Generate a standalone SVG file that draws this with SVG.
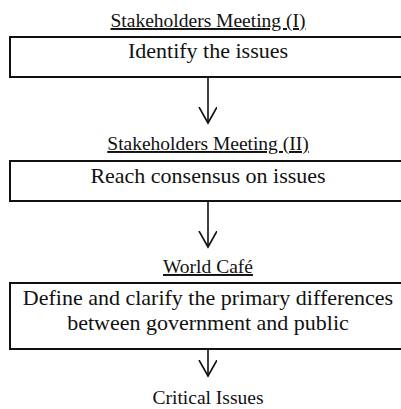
<svg xmlns="http://www.w3.org/2000/svg" width="401" height="409" viewBox="0 0 401 409">
<style>
  .bg { fill: #ffffff; }
  .box { fill: #ffffff; stroke: #111111; stroke-width: 2; }
  .lbl { font-family: "Liberation Serif", "Times New Roman", serif; font-size: 19.5px; fill: #111111; text-anchor: middle; text-decoration: underline; }
  .txt { font-family: "Liberation Serif", "Times New Roman", serif; font-size: 22px; fill: #111111; text-anchor: middle; }
  .plain { font-family: "Liberation Serif", "Times New Roman", serif; font-size: 19.5px; fill: #111111; text-anchor: middle; }
  .conn { stroke: #111111; stroke-width: 1.6; fill: none; }
</style>
<defs>
  <marker id="vhead" markerWidth="20" markerHeight="20" refX="16" refY="9" orient="auto" markerUnits="userSpaceOnUse">
    <path d="M 0 0 L 16 9 L 0 18" fill="none" stroke="#111111" stroke-width="1.6"/>
  </marker>
</defs>
<rect class="bg" x="0" y="0" width="401" height="409"/>
<g id="label1"><text class="lbl" x="208" y="27">Stakeholders Meeting (I)</text></g>
<g id="node1">
  <rect class="box" x="10" y="37" width="400" height="40"/>
  <text class="txt" x="208" y="58">Identify the issues</text>
</g>
<g id="label2"><text class="lbl" x="208" y="150">Stakeholders Meeting (II)</text></g>
<g id="node2">
  <rect class="box" x="10" y="161" width="400" height="40"/>
  <text class="txt" x="208" y="183">Reach consensus on issues</text>
</g>
<g id="label3"><text class="lbl" x="208" y="273">World Café</text></g>
<g id="node3">
  <rect class="box" x="10" y="283" width="400" height="66"/>
  <text class="txt" x="208" y="305">Define and clarify the primary differences</text>
  <text class="txt" x="208" y="330">between government and public</text>
</g>
<g id="node4"><text class="plain" x="208" y="404">Critical Issues</text></g>
<g id="connectors">
  <line class="conn" x1="208" y1="77" x2="208" y2="123" marker-end="url(#vhead)"/>
  <line class="conn" x1="208" y1="201" x2="208" y2="247" marker-end="url(#vhead)"/>
  <line class="conn" x1="208" y1="349" x2="208" y2="376" marker-end="url(#vhead)"/>
</g>
</svg>
